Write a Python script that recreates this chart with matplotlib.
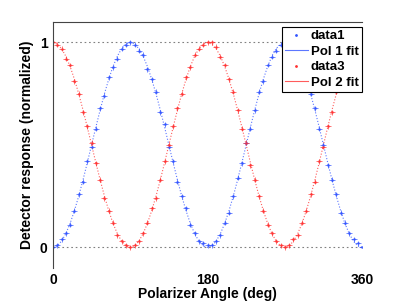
import matplotlib.pyplot as plt
from matplotlib.lines import Line2D

plt.rcParams['font.family'] = ['Liberation Sans', 'DejaVu Sans']

# polarizer angle (deg)
angle = list(range(0, 361, 5))

# Pol 1 measured (blue)
data1 = [0.00, 0.01, 0.04, 0.07, 0.11, 0.18, 0.26, 0.32, 0.42, 0.49, 0.58, 0.68, 0.74, 0.83, 0.88, 0.92, 0.97, 0.99, 1.00,
         0.99, 0.96, 0.94, 0.87, 0.82, 0.76, 0.66, 0.60, 0.49, 0.42, 0.32, 0.25, 0.19, 0.11, 0.07, 0.03, 0.02, 0.01,
         0.01, 0.03, 0.06, 0.12, 0.17, 0.25, 0.34, 0.41, 0.51, 0.58, 0.67, 0.76, 0.81, 0.89, 0.93, 0.96, 0.99, 1.00,
         0.99, 0.97, 0.92, 0.88, 0.81, 0.75, 0.68, 0.58, 0.50, 0.40, 0.33, 0.26, 0.17, 0.12, 0.07, 0.04, 0.02, 0.00]
fit1 = [0.000, 0.008, 0.030, 0.067, 0.117, 0.179, 0.250, 0.329, 0.413, 0.500, 0.587, 0.671, 0.750, 0.821, 0.883, 0.933, 0.970, 0.992, 1.000,
        0.992, 0.970, 0.933, 0.883, 0.821, 0.750, 0.671, 0.587, 0.500, 0.413, 0.329, 0.250, 0.179, 0.117, 0.067, 0.030, 0.008, 0.000,
        0.008, 0.030, 0.067, 0.117, 0.179, 0.250, 0.329, 0.413, 0.500, 0.587, 0.671, 0.750, 0.821, 0.883, 0.933, 0.970, 0.992, 1.000,
        0.992, 0.970, 0.933, 0.883, 0.821, 0.750, 0.671, 0.587, 0.500, 0.413, 0.329, 0.250, 0.179, 0.117, 0.067, 0.030, 0.008, 0.000]

# Pol 2 measured (red)
data3 = [1.00, 0.99, 0.97, 0.92, 0.89, 0.81, 0.75, 0.66, 0.59, 0.51, 0.41, 0.33, 0.24, 0.18, 0.12, 0.06, 0.03, 0.01, 0.00,
         0.01, 0.03, 0.07, 0.12, 0.19, 0.24, 0.33, 0.42, 0.50, 0.59, 0.68, 0.75, 0.83, 0.88, 0.94, 0.97, 0.99, 1.00,
         1.00, 0.98, 0.93, 0.89, 0.82, 0.76, 0.67, 0.58, 0.51, 0.40, 0.33, 0.25, 0.18, 0.11, 0.07, 0.03, 0.01, 0.00,
         0.01, 0.04, 0.06, 0.12, 0.18, 0.26, 0.32, 0.42, 0.49, 0.59, 0.66, 0.76, 0.82, 0.88, 0.93, 0.96, 0.99, 1.00]
fit2 = [1.000, 0.992, 0.970, 0.933, 0.883, 0.821, 0.750, 0.671, 0.587, 0.500, 0.413, 0.329, 0.250, 0.179, 0.117, 0.067, 0.030, 0.008, 0.000,
        0.008, 0.030, 0.067, 0.117, 0.179, 0.250, 0.329, 0.413, 0.500, 0.587, 0.671, 0.750, 0.821, 0.883, 0.933, 0.970, 0.992, 1.000,
        0.992, 0.970, 0.933, 0.883, 0.821, 0.750, 0.671, 0.587, 0.500, 0.413, 0.329, 0.250, 0.179, 0.117, 0.067, 0.030, 0.008, 0.000,
        0.008, 0.030, 0.067, 0.117, 0.179, 0.250, 0.329, 0.413, 0.500, 0.587, 0.671, 0.750, 0.821, 0.883, 0.933, 0.970, 0.992, 1.000]

blue = '#3355ff'
red = '#ff3333'

fig = plt.figure(figsize=(4.01, 3.01), dpi=100)
ax = fig.add_axes([0.132, 0.110, 0.771, 0.817])

# reference lines at 0 and 1
ax.axhline(0, color='gray', ls=(0, (1.5, 2.5)), lw=0.8, zorder=0)
ax.axhline(1, color='gray', ls=(0, (1.5, 2.5)), lw=0.8, zorder=0)

ax.errorbar(angle, data1, xerr=3.5, yerr=0.012, fmt='.', ms=2, color=blue,
            ecolor=blue, elinewidth=0.7, alpha=0.7, capsize=0)
ax.plot(angle, fit1, color=blue, ls=':', lw=0.8, alpha=0.8)
ax.errorbar(angle, data3, xerr=3.5, yerr=0.012, fmt='.', ms=2, color=red,
            ecolor=red, elinewidth=0.7, alpha=0.7, capsize=0)
ax.plot(angle, fit2, color=red, ls=':', lw=0.8, alpha=0.8)

ax.set_xlim(0, 360)
ax.set_ylim(-0.1, 1.1)
ax.set_xticks([0, 180, 360])
ax.set_yticks([0, 1])
ax.tick_params(axis='x', length=0, labelsize=10, pad=3.5)
ax.tick_params(axis='y', length=0, labelsize=10, pad=4)
for lab in ax.get_xticklabels() + ax.get_yticklabels():
    lab.set_fontweight('bold')

ax.spines['right'].set_visible(False)
ax.spines['bottom'].set_visible(False)
ax.spines['top'].set_color('#444444')
ax.spines['left'].set_color('#444444')

ax.set_xlabel('Polarizer Angle (deg)', fontsize=10, fontweight='bold', labelpad=0)
ax.set_ylabel('Detector response (normalized)', fontsize=10, fontweight='bold', labelpad=4)

handles = [Line2D([], [], color=blue, marker='.', ms=2, ls='none'),
           Line2D([], [], color=blue, lw=0.8, alpha=0.8),
           Line2D([], [], color=red, marker='.', ms=2, ls='none'),
           Line2D([], [], color=red, lw=0.8, alpha=0.8)]
leg = ax.legend(handles, ['data1', 'Pol 1 fit', 'data3', 'Pol 2 fit'],
                loc='upper right', bbox_to_anchor=(1.0, 0.98), fancybox=False,
                framealpha=1, edgecolor='black', borderpad=0.25, labelspacing=0.25,
                handlelength=1.7, handletextpad=0.25, borderaxespad=0,
                prop={'weight': 'bold', 'size': 9.5})
leg.get_frame().set_linewidth(0.8)

fig.savefig('out.png', dpi=100)
